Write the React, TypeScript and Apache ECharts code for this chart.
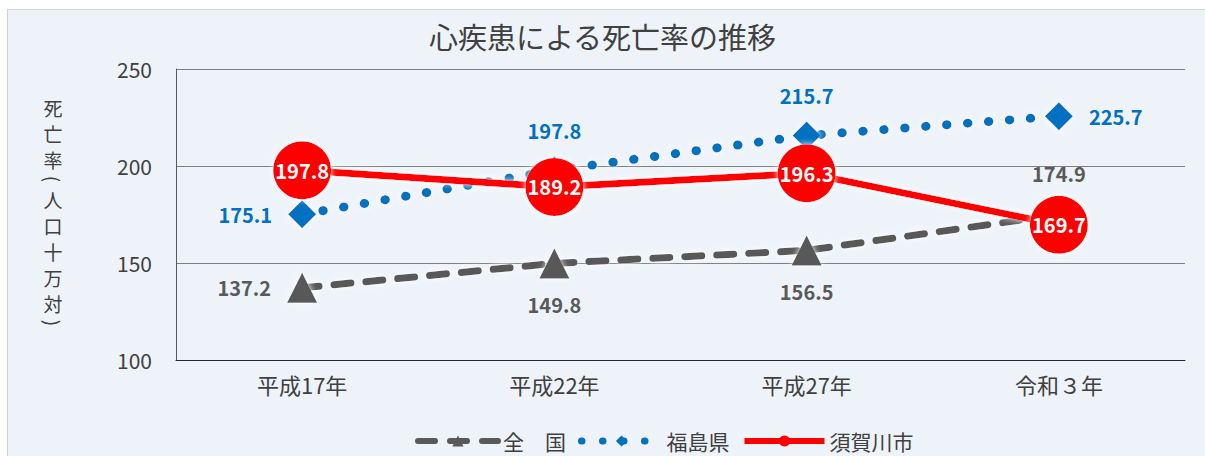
import React, { useEffect, useRef } from "react";
import * as echarts from "echarts";

const categories = ["平成17年", "平成22年", "平成27年", "令和３年"];
const seriesNames = ["全　国", "福島県", "須賀川市"];
const nationalValues = [137.2, 149.8, 156.5, 174.9];
const fukushimaValues = [175.1, 197.8, 215.7, 225.7];
const sukagawaValues = [197.8, 189.2, 196.3, 169.7];
const yMin = 100;
const yMax = 250;
const yInterval = 50;

const titleText = "心疾患による死亡率の推移";
const yAxisName = "死亡率(人口十万対)";

const nationalLabelPos = ["left", "bottom", "bottom", "top"];
const fukushimaLabelPos = ["left", "top", "top", "right"];

const FONT = '"Noto Sans CJK JP", "Noto Sans", sans-serif';

function verticalNameElements(text: string, x: number, startY: number) {
  const els: any[] = [];
  let cursor = startY;
  for (const ch of text.split("")) {
    const isParen = ch === "(" || ch === ")";
    const h = isParen ? 14 : 26;
    const cy = cursor + h / 2;
    els.push({
      type: "text",
      x,
      y: cy,
      z: 10,
      rotation: isParen ? -Math.PI / 2 : 0,
      style: {
        text: ch,
        fontSize: 19,
        fill: "#404040",
        align: "center",
        verticalAlign: "middle",
        fontFamily: FONT,
      },
    });
    cursor += h;
  }
  return els;
}

export default function App() {
  const ref = useRef<HTMLDivElement>(null);

  useEffect(() => {
    document.body.style.margin = "0";
    if (!ref.current) return;
    const chart = echarts.init(ref.current, null, { renderer: "svg" });
    chart.setOption({
      animation: false,
      textStyle: { fontFamily: FONT },
      title: {
        text: titleText,
        left: "center",
        top: 16,
        textStyle: { fontSize: 29, fontWeight: "normal", color: "#404040", fontFamily: FONT },
      },
      grid: { left: 176, right: 20, top: 69, bottom: 96, containLabel: false },
      legend: {
        left: 410,
        top: 424,
        itemWidth: 80,
        itemHeight: 14,
        itemGap: 12,
        textStyle: { fontSize: 21, color: "#404040", fontFamily: FONT, lineHeight: 24 },
        data: [
          { name: seriesNames[0], lineStyle: { width: 6 } },
          { name: seriesNames[1], lineStyle: { width: 7 } },
          { name: seriesNames[2], lineStyle: { width: 6 } },
        ],
      },
      graphic: [
        {
          type: "rect",
          z: -100,
          silent: true,
          shape: { x: 7.5, y: 9.5, width: 1210, height: 460 },
          style: { fill: "#EEF3FA", stroke: "#D0D0D0", lineWidth: 1 },
        },
        ...verticalNameElements(yAxisName, 53, 94),
      ],
      xAxis: {
        type: "category",
        data: categories,
        boundaryGap: true,
        axisLine: { show: true, lineStyle: { color: "#262626", width: 1 } },
        axisTick: { show: false },
        axisLabel: { fontSize: 22, color: "#404040", margin: 13, fontFamily: FONT },
      },
      yAxis: {
        type: "value",
        min: yMin,
        max: yMax,
        interval: yInterval,
        axisLine: { show: true, lineStyle: { color: "#595959", width: 1 } },
        axisTick: { show: false },
        axisLabel: { fontSize: 21, color: "#404040", margin: 24, fontFamily: FONT },
        splitLine: { show: true, lineStyle: { color: "#7f7f7f", width: 1 } },
      },
      series: [
        {
          name: seriesNames[0],
          type: "line",
          data: nationalValues.map((v, i) => ({ value: v, label: { position: nationalLabelPos[i] } })),
          symbol: "triangle",
          symbolSize: 30,
          lineStyle: {
            color: "#595959",
            width: 7,
            type: [17, 15],
            cap: "round",
            shadowColor: "#ffffff",
            shadowBlur: 6,
          },
          itemStyle: { color: "#595959", shadowColor: "#ffffff", shadowBlur: 6 },
          label: {
            show: true,
            color: "#595959",
            fontSize: 20,
            fontWeight: "bold",
            distance: 16,
            fontFamily: FONT,
          },
        },
        {
          name: seriesNames[1],
          type: "line",
          data: fukushimaValues.map((v, i) => ({ value: v, label: { position: fukushimaLabelPos[i] } })),
          symbol: "diamond",
          symbolSize: 28,
          lineStyle: {
            color: "#0070C0",
            width: 9,
            type: [0.5, 20.5],
            cap: "round",
            shadowColor: "#ffffff",
            shadowBlur: 6,
          },
          itemStyle: { color: "#0070C0", shadowColor: "#ffffff", shadowBlur: 6 },
          label: {
            show: true,
            color: "#0070C0",
            fontSize: 20,
            fontWeight: "bold",
            distance: 16,
            fontFamily: FONT,
          },
        },
        {
          name: seriesNames[2],
          type: "line",
          data: sukagawaValues,
          symbol: "circle",
          symbolSize: 58,
          lineStyle: { color: "#FF0000", width: 7, shadowColor: "#ffffff", shadowBlur: 6 },
          itemStyle: { color: "#FF0000", shadowColor: "#ffffff", shadowBlur: 6 },
          label: {
            show: true,
            position: "inside",
            color: "#ffffff",
            fontSize: 20,
            fontWeight: "bold",
            fontFamily: FONT,
          },
        },
      ],
    });
    return () => chart.dispose();
  }, []);

  return <div ref={ref} style={{ width: 1205, height: 456 }} />;
}
